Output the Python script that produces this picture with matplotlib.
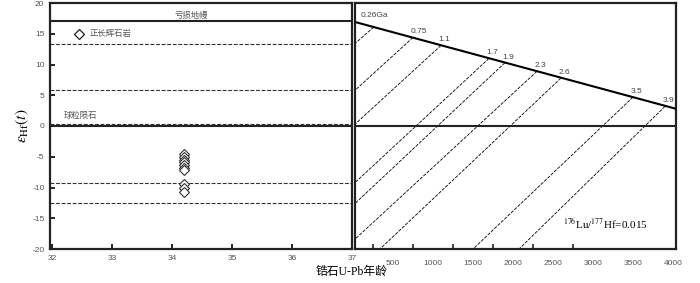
"""Zircon Hf isotope plot: eHf(t) vs U-Pb age."""

import matplotlib
matplotlib.use("Agg")
import matplotlib.pyplot as plt
from matplotlib.ticker import MultipleLocator

plt.rcParams['font.family'] = ['Liberation Sans', 'Noto Sans CJK SC']
plt.rcParams['mathtext.fontset'] = 'stix'
plt.rcParams['axes.unicode_minus'] = False

# zircon analyses (age in Ma, eHf(t))
zircon_age = [34.2, 34.2, 34.2, 34.2, 34.2, 34.2, 34.2, 34.2, 34.2, 34.2]
zircon_ehf = [-4.6, -5.0, -5.5, -5.9, -6.3, -6.8, -7.2, -9.4, -10.1, -10.8]

# horizontal reference levels in the left panel
dm_level = 17.0
crust_levels = [13.4, 5.8, 0.3, -9.2, -12.6]

# depleted mantle line in the right panel (age Ma, eHf)
dm_age = [0, 4037]
dm_eps = [17.0, 2.8]

# crustal evolution lines: start on DM, end at left edge / bottom
model_labels = ['0.26Ga', '0.75', '1.1', '1.7', '1.9', '2.3', '2.6', '3.5', '3.9']
model_age = [260, 750, 1100, 1700, 1900, 2300, 2600, 3500, 3900]
model_eps = [16.1, 14.4, 13.1, 11.0, 10.3, 8.9, 7.8, 4.7, 3.2]
end_age = [25, 25, 25, 25, 25, 25, 337, 1500, 2075]
end_eps = [13.4, 5.8, 0.3, -9.2, -12.6, -18.4, -20, -20, -20]

SPINE = '#222222'
TICKC = '#555555'

fig = plt.figure(figsize=(7.0, 2.83), dpi=100)
ax1 = fig.add_axes([50 / 700, 34 / 283, 302 / 700, 246 / 283])
ax2 = fig.add_axes([355 / 700, 34 / 283, 321 / 700, 246 / 283])

for ax in (ax1, ax2):
    for s in ax.spines.values():
        s.set_linewidth(1.6)
        s.set_color(SPINE)
    ax.set_ylim(-20, 20)
    ax.axhline(0, color=SPINE, lw=1.5, zorder=3)

# ---- left panel
ax1.set_xlim(31.97, 37)
ax1.xaxis.set_major_locator(MultipleLocator(1))
ax1.yaxis.set_major_locator(MultipleLocator(5))
ax1.tick_params(direction='in', length=3.5, width=1.4, color=SPINE,
                labelsize=6, labelcolor=TICKC, pad=4)
ax1.axhline(dm_level, color=SPINE, lw=1.5)
for lv in crust_levels:
    ax1.axhline(lv, color='#333333', lw=0.8, ls=(0, (3.5, 1.5)))
ax1.plot(zircon_age, zircon_ehf, ls='none', marker='D', ms=4.8, mfc='white',
         mec='#333333', mew=0.8, zorder=4)
ax1.plot([32.45], [14.9], ls='none', marker='D', ms=5, mfc='white',
         mec='#222222', mew=0.9)
ax1.text(32.63, 14.9, '正长辉石岩', fontsize=6, color='#555555',
         va='center', ha='left')
ax1.text(34.33, 17.3, '亏损地幔', fontsize=6, color='#555555',
         va='bottom', ha='center')
ax1.text(32.2, 1.0, '球粒陨石', fontsize=6, color='#555555',
         va='bottom', ha='left')
ax1.set_ylabel(r'$\varepsilon_{\rm Hf}(t)$', fontsize=11, labelpad=1)

# ---- right panel
ax2.set_xlim(25, 4037)
ax2.set_xticks(range(500, 4001, 500))
ax2.set_xticks([t for t in range(250, 3001, 250)], minor=True)
ax2.tick_params(axis='x', which='major', length=0, labelsize=6,
                labelcolor=TICKC, pad=8)
ax2.tick_params(axis='x', which='minor', direction='in', length=3.5,
                width=1.2, color=SPINE)
ax2.set_yticks([])
ax2.plot(dm_age, dm_eps, color='black', lw=1.5, zorder=3)
for lab, t0, e0, t1, e1 in zip(model_labels, model_age, model_eps,
                               end_age, end_eps):
    ax2.plot([t0, t1], [e0, e1], color='black', lw=0.6,
             ls=(0, (4, 1.5)), clip_on=True)
    if lab == '0.26Ga':
        tx, ty = 90, 17.4
    else:
        tx, ty = t0 - 30, e0 + 0.35
    ax2.text(tx, ty, lab, fontsize=6, color='#444444', ha='left', va='bottom')
ax2.text(2625, -15.9, r'$^{176}$Lu/$^{177}$Hf=0.015', fontsize=8,
         family='Liberation Serif', va='center', ha='left')

fig.text(352 / 700, 1 - 272 / 283, '锆石U-Pb年龄', fontsize=8.5,
         family=['Liberation Serif', 'Noto Sans CJK SC'],
         ha='center', va='center')

fig.savefig('out.png', dpi=100)
